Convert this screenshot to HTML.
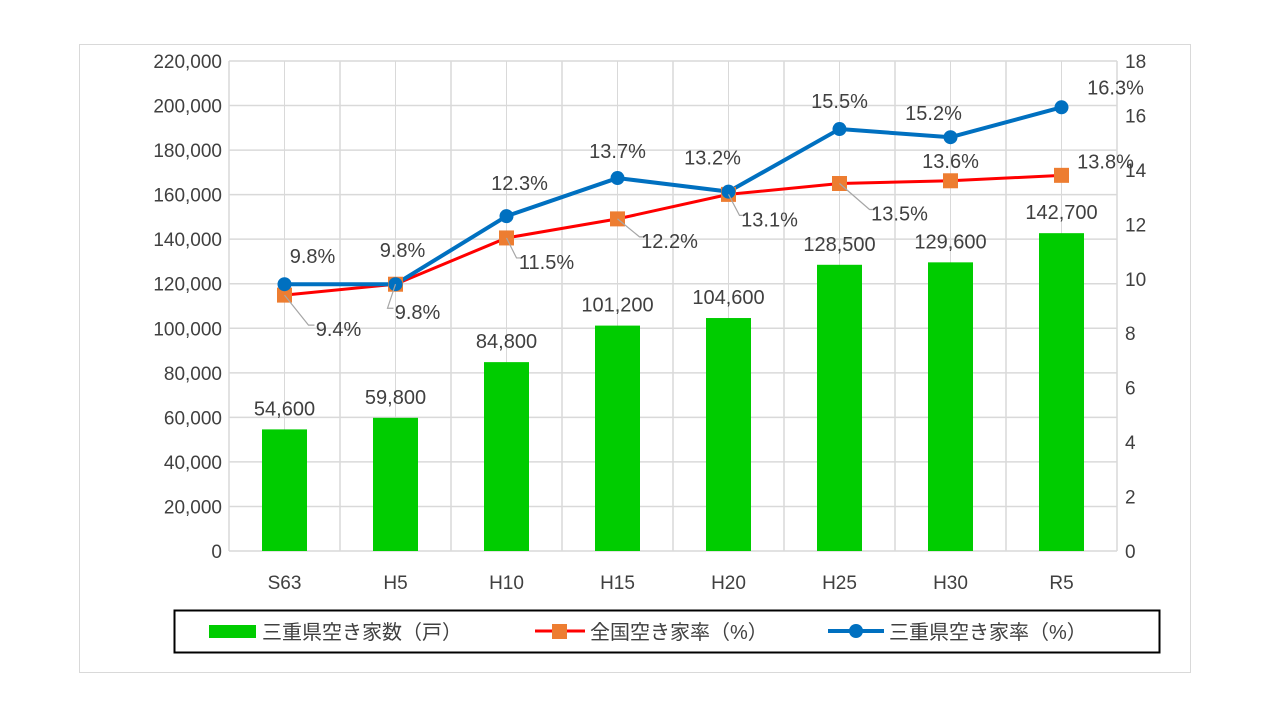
<!DOCTYPE html>
<html><head><meta charset="utf-8">
<style>
body{margin:0;background:#fff;}
svg text{font-family:"Liberation Sans","Noto Sans CJK JP",sans-serif;fill:#404040;}
</style></head>
<body>
<svg width="1280" height="720" xmlns="http://www.w3.org/2000/svg">
<rect x="79.5" y="44.5" width="1111" height="628" fill="#fff" stroke="#d9d9d9"/>
<g id="grid"></g><g id="bars"></g><g id="lines"></g><g id="labels"></g><g id="axes"></g>
<g>
<rect x="174.5" y="610.5" width="985" height="42" fill="#fff" stroke="#000" stroke-width="2"/>
<rect x="209" y="625" width="47" height="13" fill="#00cc00"/>
<text x="262" y="639" font-size="20">三重県空き家数（戸）</text>
<line x1="535" y1="631" x2="585" y2="631" stroke="#ff0000" stroke-width="3"/>
<rect x="552" y="624" width="15" height="15" fill="#ed7d31"/>
<text x="590" y="639" font-size="20">全国空き家率（%）</text>
<line x1="828" y1="631" x2="884" y2="631" stroke="#0070c0" stroke-width="4"/>
<circle cx="856" cy="631" r="7" fill="#0070c0"/>
<text x="889" y="639" font-size="20">三重県空き家率（%）</text>
</g>
</svg>
<script>
const categories=["S63","H5","H10","H15","H20","H25","H30","R5"];
const houses=[54600,59800,84800,101200,104600,128500,129600,142700];
const nationalRate=[9.4,9.8,11.5,12.2,13.1,13.5,13.6,13.8];
const mieRate=[9.8,9.8,12.3,13.7,13.2,15.5,15.2,16.3];
const leftTicks=[0,20000,40000,60000,80000,100000,120000,140000,160000,180000,200000,220000];
const rightTicks=[0,2,4,6,8,10,12,14,16,18];
const mieLabelOff=[[28,-28],[7,-34],[13,-33],[0,-27],[-16,-34],[0,-28],[-17,-24],[54,-20]];
const natLabelOff=[[54,34],[22,28],[40,24],[52,22],[41,25],[60,30],[0,-20],[44,-14]];
const NS="http://www.w3.org/2000/svg";
const X0=229,X1=1117,Y0=551,Y1=61,bw=(X1-X0)/categories.length;
const xC=i=>X0+bw*(i+0.5);
const yL=v=>Y0-(v/220000)*(Y0-Y1);
const yR=v=>Y0-(v/18)*(Y0-Y1);
function mk(tag,attrs,parent,txt){const e=document.createElementNS(NS,tag);for(const k in attrs)e.setAttribute(k,attrs[k]);if(txt!==undefined)e.textContent=txt;document.getElementById(parent).appendChild(e);return e;}
for(let i=0;i<=categories.length*2;i++){const x=X0+i*bw/2;const e=mk('line',{x1:x,y1:Y1,x2:x,y2:Y0,stroke:'#d9d9d9','stroke-width':i%2?1:1.5},'grid');

}
leftTicks.forEach(t=>{const y=yL(t);const e=mk('line',{x1:X0,y1:y,x2:X1,y2:y,stroke:'#d9d9d9','stroke-width':1.5},'grid');


const l=mk('text',{x:222,y:y+7,'font-size':19,'text-anchor':'end'},'axes',t.toLocaleString('en-US'));

});
rightTicks.forEach(t=>{const l=mk('text',{x:1125,y:yR(t)+7,'font-size':19},'axes',String(t));

});
categories.forEach((c,i)=>{const l=mk('text',{x:xC(i),y:589,'font-size':19,'text-anchor':'middle'},'axes',c);

});
houses.forEach((v,i)=>{const b=mk('rect',{x:xC(i)-22.5,y:yL(v),width:45,height:Y0-yL(v),fill:'#00cc00'},'bars');


const l=mk('text',{x:xC(i),y:yL(v)-14,'font-size':20,'text-anchor':'middle'},'labels',v.toLocaleString('en-US'));

});
function series(vals,color,w,name){const pts=vals.map((v,i)=>xC(i)+','+yR(v)).join(' ');
const p=mk('polyline',{points:pts,fill:'none',stroke:color,'stroke-width':w,'stroke-linejoin':'round'},'lines');

}
series(nationalRate,'#ff0000',3,'national-rate');
series(mieRate,'#0070c0',4,'mie-rate');
nationalRate.forEach((v,i)=>{const m=mk('rect',{x:xC(i)-7.5,y:yR(v)-7.5,width:15,height:15,fill:'#ed7d31'},'lines');


const o=natLabelOff[i];const lx=xC(i)+o[0],ly=yR(v)+o[1];
if(o[1]>0){const ln=mk('polyline',{points:`${xC(i)},${yR(v)} ${lx-30},${ly-4} ${lx-24},${ly-4}`,fill:'none',stroke:'#a6a6a6','stroke-width':1.2},'labels');

}
const l=mk('text',{x:lx,y:ly+7,'font-size':20,'text-anchor':'middle'},'labels',v.toFixed(1)+'%');

});
mieRate.forEach((v,i)=>{const m=mk('circle',{cx:xC(i),cy:yR(v),r:7,fill:'#0070c0'},'lines');


const o=mieLabelOff[i];
const l=mk('text',{x:xC(i)+o[0],y:yR(v)+o[1]+7,'font-size':20,'text-anchor':'middle'},'labels',v.toFixed(1)+'%');

});
</script>
</body></html>
